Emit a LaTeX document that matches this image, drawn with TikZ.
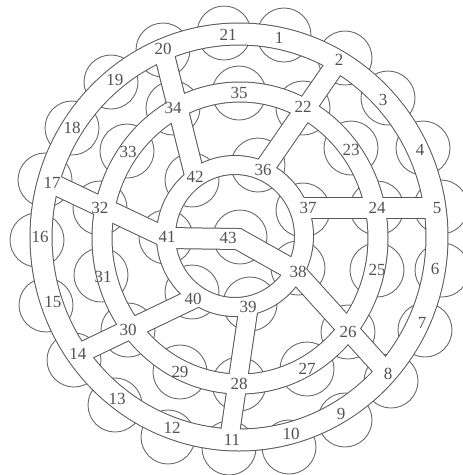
\documentclass[tikz,border=0pt]{standalone}
\usepackage{fontspec}
\setmainfont{Liberation Serif}
\tikzset{
  disc/.style={draw=black!58, line width=0.9pt},
  rim/.style={draw=black!66, line width=#1pt+2pt},
  road/.style={draw=white, line width=#1pt},
  num/.style={text=black!68, font=\fontsize{17}{17}\selectfont, inner sep=0pt},
}
% every band once; #1 is rim (outline) or road (white core)
\newcommand\drawbands[1]{%
  \draw[#1=21] (oc) ellipse [x radius=198, y radius=203];
  \draw[#1=19] (mc) ellipse [x radius=138, y radius=146];
  \draw[#1=18] (ic) ellipse [x radius=69, y radius=71];
  \draw[#1=19] (e20) -- (e42);
  \draw[#1=19] (e2) -- (e36);
  \draw[#1=20] (e5) -- (e37);
  \draw[#1=19] (e8) -- (e38);
  \draw[#1=18] (e11) -- (e39);
  \draw[#1=19] (e14) -- (e40);
  \draw[#1=19] (e17) -- (e41);
  \draw[#1=20] (e41) -- (e43) -- (e38);
}

\begin{document}
\begin{tikzpicture}[x=1pt, y=-1pt]
\useasboundingbox (0,0) rectangle (463,475);
% ring centres and band ends
\coordinate (oc) at (239,237);
\coordinate (mc) at (240,238);
\coordinate (ic) at (235,236);
\coordinate (e20) at (163,49);
\coordinate (e42) at (195,177);
\coordinate (e2) at (339,60);
\coordinate (e36) at (263,170);
\coordinate (e5) at (435,208);
\coordinate (e37) at (299,208);
\coordinate (e8) at (388,374);
\coordinate (e38) at (295,271);
\coordinate (e11) at (229,440);
\coordinate (e39) at (249,305);
\coordinate (e14) at (78,354);
\coordinate (e40) at (199,296);
\coordinate (e17) at (49,182);
\coordinate (e41) at (167,238);
\coordinate (e43) at (238,239);
% the circles behind
\foreach \x/\y in {284/35, 345/58, 388/98, 423/148, 441/207, 442/270, 425/330,
  391/381, 345/420, 289/447, 229/448, 168/437, 115/405, 74/360, 46/305,
  37/240, 45/180, 72/128, 111/82, 163/50, 224/33,
  303/108, 351/148, 377/208, 377/270, 348/332, 307/369, 239/384, 180/372,
  128/330, 101/275, 100/208, 127/151, 173/108, 239/93,
  258/165, 303/210, 298/268, 250/304, 192/292, 166/237, 192/180, 240/237}
  \draw[disc] (\x,\y) circle (27);
\drawbands{rim}
\drawbands{road}
% numbers
\foreach \n/\x/\y in {1/279/38, 2/339/60, 3/383/100, 4/420/150, 5/437/208,
  6/435/269, 7/422/323, 8/388/374, 9/341/414, 10/291/434, 11/232/440,
  12/172/428, 13/117/399, 14/78/354, 15/53/302, 16/40/237, 17/52/183,
  18/72/128, 19/115/80, 20/163/49, 21/228/35, 22/303/107, 23/351/150,
  24/377/208, 25/377/270, 26/348/332, 27/307/369, 28/239/384, 29/180/372,
  30/128/330, 31/103/277, 32/100/208, 33/128/152, 34/173/108, 35/239/93,
  36/263/170, 37/308/208, 38/298/272, 39/248/307, 40/193/299, 41/167/237,
  42/195/177, 43/228/238}
  \node[num] (n\n) at (\x,\y) {\n};
\end{tikzpicture}
\end{document}
